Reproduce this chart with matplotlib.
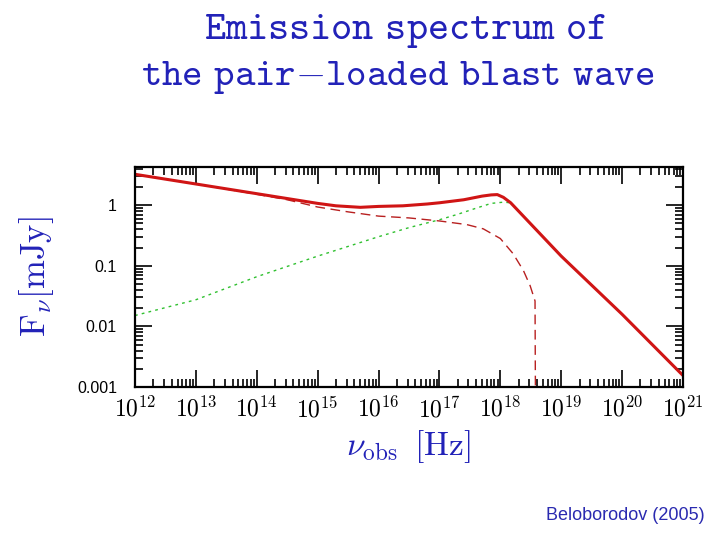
import numpy as np
import matplotlib
matplotlib.use("Agg")
import matplotlib.pyplot as plt
from matplotlib.ticker import FixedLocator, LogLocator, NullFormatter

plt.rcParams['mathtext.fontset'] = 'cm'

# values, as log10
log_nu_total = [12.0, 12.5, 13.0, 13.5, 14.0, 14.5, 15.0, 15.3, 15.7, 16.0, 16.4, 16.8,
                17.0, 17.4, 17.7, 17.85, 17.95, 18.05, 18.17, 19.0, 20.0, 20.98]
log_f_total = [0.51, 0.43, 0.35, 0.27, 0.19, 0.11, 0.03, -0.01, -0.035, -0.02, -0.01, 0.02,
               0.04, 0.09, 0.15, 0.17, 0.175, 0.13, 0.04, -0.84, -1.80, -2.79]

log_nu_pair = [12.0, 13.0, 14.0, 14.5, 15.0, 15.5, 16.0, 16.5, 17.0, 17.45, 17.72, 18.0,
               18.21, 18.38, 18.49, 18.57, 18.58]
log_f_pair = [0.51, 0.35, 0.18, 0.09, -0.03, -0.11, -0.18, -0.21, -0.26, -0.32, -0.39, -0.55,
              -0.80, -1.08, -1.33, -1.58, -4.0]

log_nu_ic = [12.0, 13.0, 14.0, 15.0, 16.0, 16.5, 17.0, 17.3, 17.6, 17.85, 18.05, 18.17,
             19.0, 20.0, 20.98]
log_f_ic = [-1.82, -1.56, -1.18, -0.84, -0.52, -0.37, -0.24, -0.15, -0.05, 0.03, 0.05, 0.04,
            -0.84, -1.80, -2.79]

xticks = [1e12, 1e13, 1e14, 1e15, 1e16, 1e17, 1e18, 1e19, 1e20, 1e21]
yticks = [0.001, 0.01, 0.1, 1]
ytick_labels = ["0.001", "0.01", "0.1", "1"]

blue = "#2222b8"

fig = plt.figure(figsize=(7.2, 5.4), dpi=100)
ax = fig.add_axes([0.1875, 0.2833, 0.7611, 0.4074])

ax.plot(10 ** np.array(log_nu_ic), 10 ** np.array(log_f_ic), color="#30c030",
        lw=1.0, ls=(0, (2, 3)))
ax.plot(10 ** np.array(log_nu_pair), 10 ** np.array(log_f_pair), color="#b82020",
        lw=1.0, ls=(0, (7, 4)))
ax.plot(10 ** np.array(log_nu_total), 10 ** np.array(log_f_total), color="#d01515", lw=2.2)

ax.set_xscale("log")
ax.set_yscale("log")
ax.set_xlim(1e12, 1e21)
ax.set_ylim(1e-3, 10 ** 0.63)

ax.xaxis.set_major_locator(FixedLocator(xticks))
ax.set_xticklabels([r"$\mathbf{10}^{\mathbf{%d}}$" % int(np.log10(v)) for v in xticks],
                   fontsize=17)
ax.xaxis.set_minor_locator(LogLocator(base=10, subs=np.arange(2, 10), numticks=20))
ax.xaxis.set_minor_formatter(NullFormatter())

ax.yaxis.set_major_locator(FixedLocator(yticks))
ax.set_yticklabels(ytick_labels, fontsize=11.5, family="Liberation Sans")
ax.yaxis.set_minor_locator(LogLocator(base=10, subs=np.arange(2, 10), numticks=20))
ax.yaxis.set_minor_formatter(NullFormatter())

ax.tick_params(which="both", direction="in", top=True, right=True, width=1.2)
ax.tick_params(which="major", length=12)
ax.tick_params(which="minor", length=6)
ax.tick_params(axis="x", which="major", pad=7)
ax.tick_params(axis="y", which="major", pad=13)
for s in ax.spines.values():
    s.set_linewidth(1.6)

ax.set_xlabel(r"$\nu_{\rm obs}\;\;[\rm Hz]$", color=blue, fontsize=24, labelpad=4)
ax.set_ylabel(r"$\rm F_\nu [mJy]$", color=blue, fontsize=25)
ax.yaxis.set_label_coords(-0.145, 0.5)

fig.text(0.5625, 0.945, r"$\mathtt{Emission\ spectrum\ of}$", color=blue,
         fontsize=29, ha="center", va="center")
fig.text(0.552, 0.858, r"$\mathtt{the\ pair{-}loaded\ blast\ wave}$", color=blue,
         fontsize=28, ha="center", va="center")
fig.text(0.978, 0.046, "Beloborodov (2005)", color="#2a2ab0", fontsize=13,
         family="Liberation Sans", ha="right", va="center")

fig.savefig("out.png", dpi=100)
